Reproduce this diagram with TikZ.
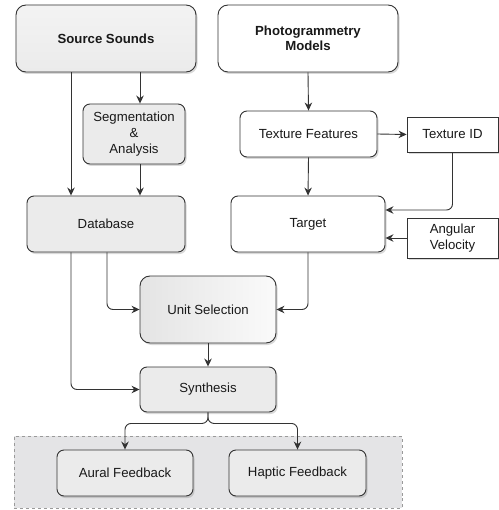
\documentclass[tikz,border=0pt]{standalone}
\usepackage{fontspec}
\setmainfont{Liberation Sans}
\usetikzlibrary{arrows.meta,shadows,calc}
\definecolor{boxgray}{HTML}{EBEBEB}
\definecolor{linecol}{HTML}{333333}
\definecolor{grpfill}{HTML}{E4E4E6}
\definecolor{grpline}{HTML}{9A9A9A}
\definecolor{usleft}{HTML}{E4E4E4}
\definecolor{usright}{HTML}{FAFAFA}
\begin{document}
\begin{tikzpicture}[x=1bp,y=-1bp,
  font=\fontsize{13.2bp}{15bp}\selectfont,
  shd/.style={drop shadow={shadow xshift=1.5bp,shadow yshift=-2bp,opacity=0.25,fill=black!60}},
  box/.style={draw=linecol,line width=0.9bp,rounded corners=7bp,align=center,inner sep=0pt,shd,text=black!90},
  graybox/.style={box,fill=boxgray},
  whitebox/.style={box,fill=white},
  sharpbox/.style={draw=linecol,line width=0.9bp,fill=white,align=center,inner sep=0pt,shd,text=black!90},
  arr/.style={draw=linecol,line width=0.9bp,-{Stealth[length=8bp,width=7.5bp]},rounded corners=6bp},
]
\useasboundingbox (0,0) rectangle (499,510);
% group
\node[draw=grpline,dashed,fill=grpfill,minimum width=388bp,minimum height=72bp,inner sep=0pt] (grp) at (208,472) {};
% nodes
\node[graybox,rounded corners=10bp,minimum width=180bp,minimum height=67bp,top color=boxgray!60,bottom color=boxgray] (src) at (106,38.5) {\textbf{Source Sounds}};
\node[whitebox,rounded corners=10bp,minimum width=180bp,minimum height=67bp] (pho) at (308,38.5) {\textbf{Photogrammetry}\\\textbf{Models}};
\node[graybox,minimum width=102bp,minimum height=60bp,font=\fontsize{13.2bp}{16bp}\selectfont] (seg) at (134,134) {Segmentation\\\&\\Analysis};
\node[graybox,minimum width=158bp,minimum height=56bp] (db) at (106,224) {Database};
\node[whitebox,minimum width=137bp,minimum height=46bp] (tf) at (308.5,134) {Texture Features};
\node[sharpbox,minimum width=91bp,minimum height=35bp] (tid) at (452.5,134.5) {Texture ID};
\node[whitebox,minimum width=154bp,minimum height=56bp] (tgt) at (308,224) {Target};
\node[sharpbox,minimum width=91bp,minimum height=40bp,font=\fontsize{13.2bp}{16bp}\selectfont] (av) at (452.5,238) {Angular\\Velocity};
\node[box,rounded corners=10bp,minimum width=136bp,minimum height=67bp,left color=usleft,right color=usright] (us) at (208,309.5) {Unit Selection};
\node[graybox,minimum width=136bp,minimum height=45bp] (syn) at (208,389.5) {Synthesis};
\node[graybox,minimum width=136bp,minimum height=46bp] (aur) at (125,473) {Aural Feedback};
\node[graybox,minimum width=137bp,minimum height=46bp] (hap) at (297.5,473) {Haptic Feedback};
% helper coordinates
\coordinate (x71) at (71,0);
\coordinate (x140) at (140,0);
\coordinate (x107) at (107,0);
\coordinate (y210) at (0,210);
% connectors
\draw[arr] (src.south -| x71) -- (db.north -| x71);
\draw[arr] (src.south -| x140) -- (seg.north -| x140);
\draw[arr] (seg.south -| x140) -- (db.north -| x140);
\draw[arr] (db.south -| x107) |- (us.west);
\draw[arr] (db.south -| x71) |- (syn.west);
\draw[arr] (us.south) -- (syn.north);
\draw[arr] (syn.south) -- ++(0,11) -| (aur.north);
\draw[arr] (syn.south) -- ++(0,11) -| (hap.north);
\draw[arr] (pho.south) -- (tf.north);
\draw[arr] (tf.east) -- (tid.west);
\draw[arr] (tf.south) -- (tgt.north);
\draw[arr] (tid.south) |- (tgt.east |- y210);
\draw[arr] (av.west) -- (tgt.east |- av.west);
\draw[arr] (tgt.south) |- (us.east);
\end{tikzpicture}
\end{document}
